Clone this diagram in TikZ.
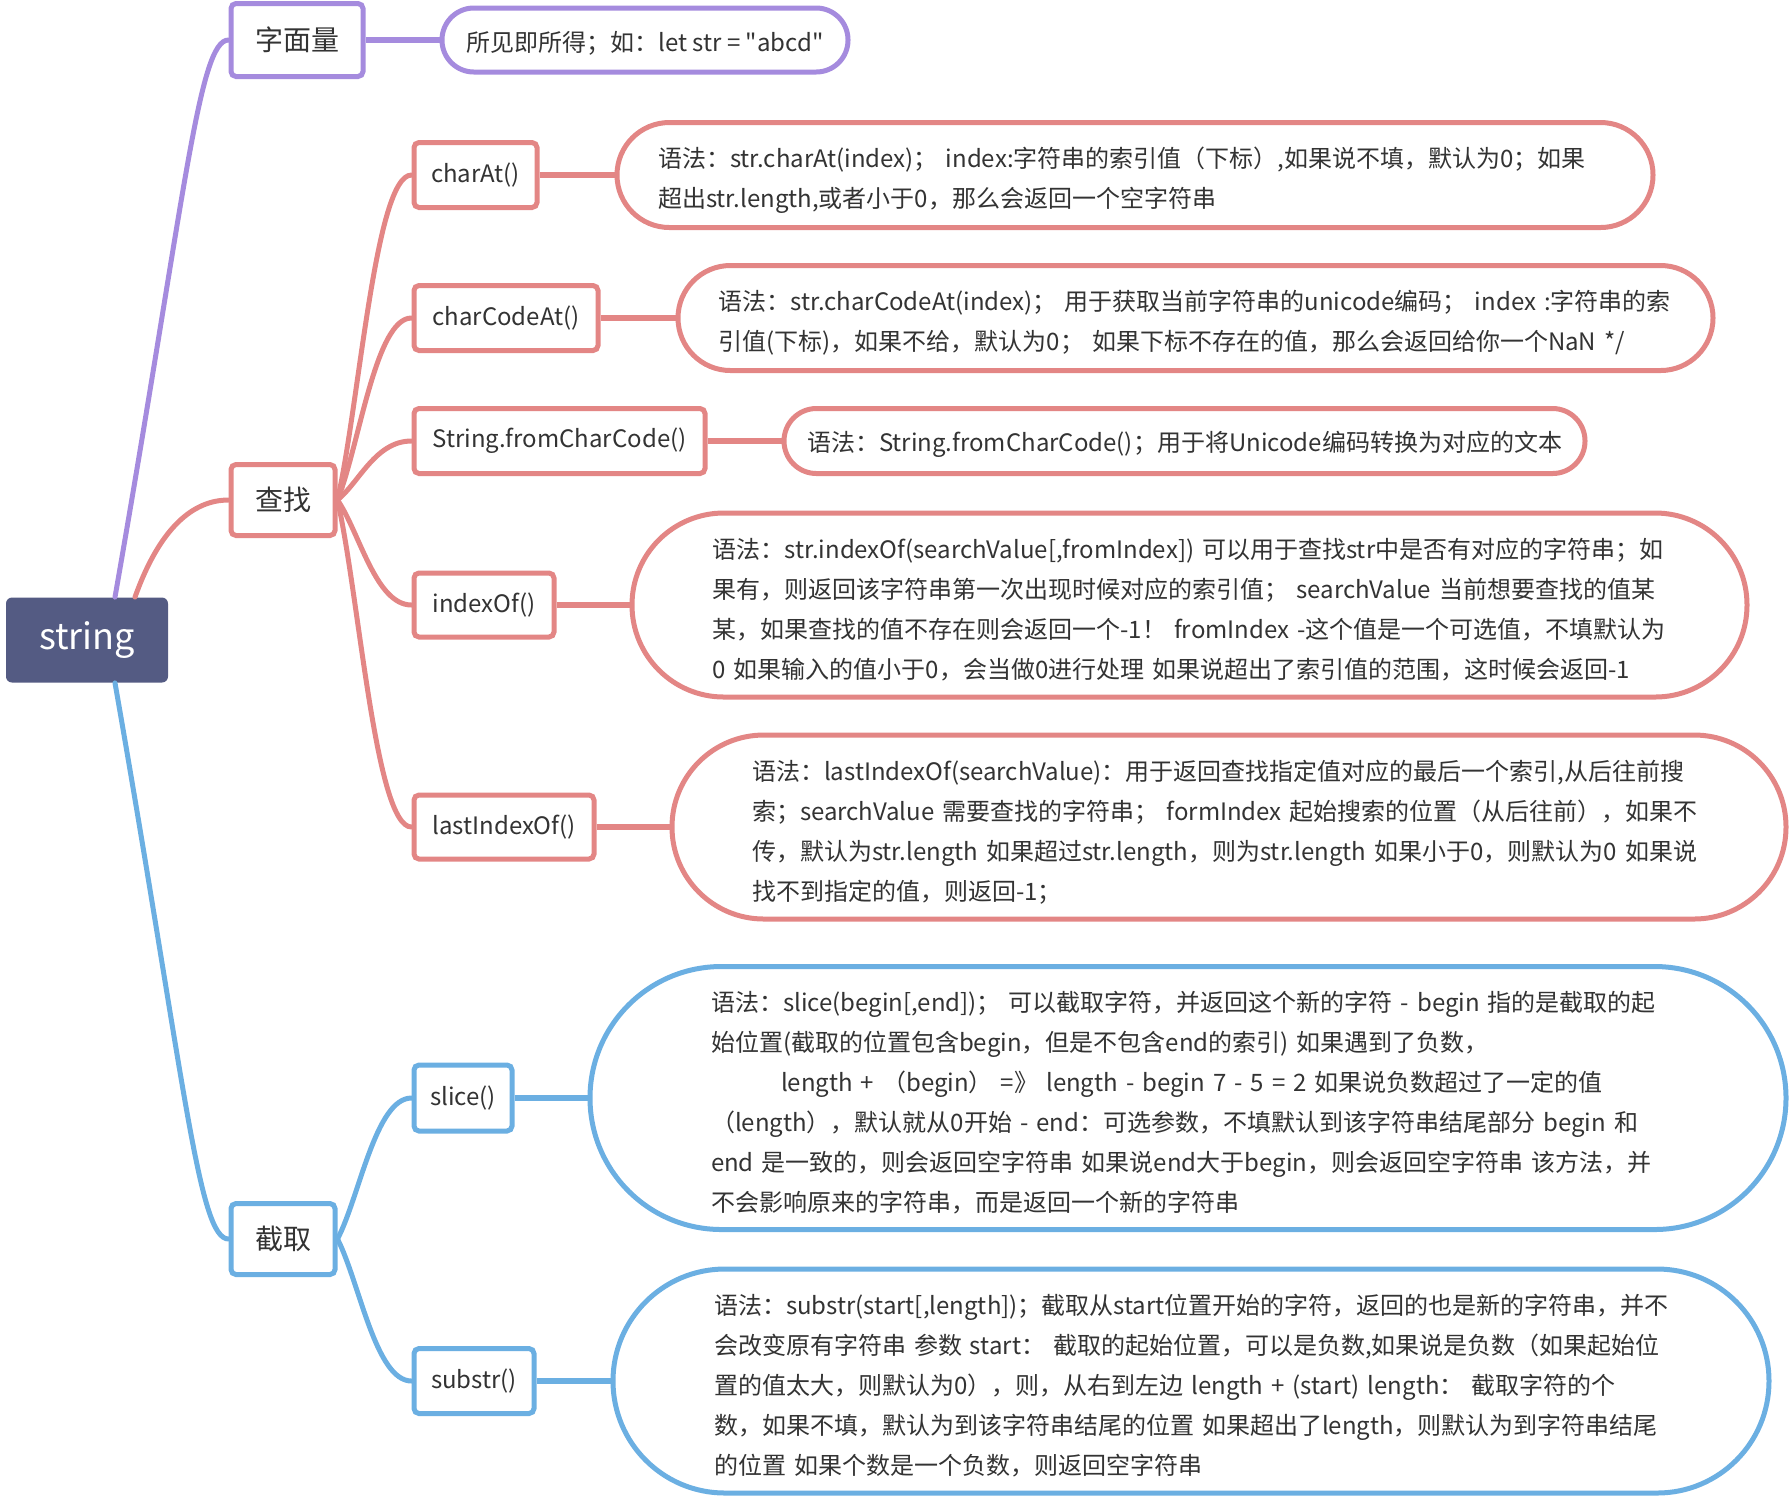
\documentclass[tikz,border=0pt]{standalone}
\usepackage{fontspec}
\newfontfamily\cjk{Noto Sans CJK SC}
\definecolor{cPur}{HTML}{A58BDE}
\definecolor{cRed}{HTML}{E38685}
\definecolor{cBlue}{HTML}{6BAFE2}
\definecolor{cRoot}{HTML}{545B83}
\definecolor{cText}{HTML}{333333}
\newcommand\topstrut{\rule{0pt}{15pt}}
\newcommand\onestrut{\rule{0pt}{13.5pt}}
\begin{document}
\begin{tikzpicture}[x=0.5pt,y=-0.5pt,
  every node/.style={inner sep=0pt, text=cText},
  lvbox/.style={draw, line width=2.5pt, rounded corners=2.5pt, fill=white, font=\cjk\fontsize{12}{14}\selectfont},
  topbox/.style={lvbox, font=\cjk\fontsize{14}{16}\selectfont},
  pill/.style={draw, line width=2.5pt, fill=white, font=\cjk\fontsize{12}{20}\selectfont},
  bubble/.style={pill, align=left, text width=477pt},
  link/.style={line width=3pt},
  branch/.style={line width=2.5pt, line cap=round}]
\useasboundingbox (0,0) rectangle (1792,1496);

% root
\node[fill=cRoot, rounded corners=3pt, minimum width=81pt, minimum height=42.5pt, text=white, font=\cjk\fontsize{18}{20}\selectfont] (root) at (87,640) {string};

% level 1
\node[topbox, draw=cPur, minimum width=66pt, minimum height=36.5pt] (lit) at (297,40) {字面量};
\node[topbox, draw=cRed, minimum width=52pt, minimum height=35.5pt] (cz) at (283,500) {查找};
\node[topbox, draw=cBlue, minimum width=52pt, minimum height=35.5pt] (jq) at (283,1239) {截取};

% literal bubble
\node[pill, draw=cPur, minimum width=203pt, minimum height=32pt, rounded corners=15.9pt] (litb) at (645,40) {\onestrut 所见即所得；如：let str = "abcd"};

% level 2 (find)
\node[lvbox, draw=cRed, minimum width=61.5pt, minimum height=32.5pt] (charat) at (475.5,175) {charAt()};
\node[lvbox, draw=cRed, minimum width=92pt, minimum height=32.5pt] (charcodeat) at (506,318) {charCodeAt()};
\node[lvbox, draw=cRed, minimum width=145.5pt, minimum height=32.5pt] (fromcc) at (559.5,441) {String.fromCharCode()};
\node[lvbox, draw=cRed, minimum width=70pt, minimum height=32pt] (indexof) at (484,605) {indexOf()};
\node[lvbox, draw=cRed, minimum width=90pt, minimum height=32pt] (lastidx) at (504,827) {lastIndexOf()};

% level 2 (cut)
\node[lvbox, draw=cBlue, minimum width=49pt, minimum height=33pt] (slice) at (463,1098) {slice()};
\node[lvbox, draw=cBlue, minimum width=60pt, minimum height=32.5pt] (substr) at (474,1381) {substr()};

% bubbles
\node[bubble, draw=cRed, minimum width=518pt, minimum height=52.5pt, rounded corners=26.2pt] (bA) at (1135,175)
 {\mbox{\topstrut 语法：str.charAt(index)； index:字符串的索引值（下标）,如果说不填，默认为0；如果}\\
  \mbox{超出str.length,或者小于0，那么会返回一个空字符串}};
\node[bubble, draw=cRed, minimum width=517.5pt, minimum height=52.5pt, rounded corners=26.2pt] (bB) at (1195.5,318)
 {\mbox{\topstrut 语法：str.charCodeAt(index)； 用于获取当前字符串的unicode编码； index :字符串的索}\\
  \mbox{引值(下标)，如果不给，默认为0； 如果下标不存在的值，那么会返回给你一个NaN */}};
\node[pill, draw=cRed, minimum width=400.5pt, minimum height=32.5pt, rounded corners=16.2pt] (bC) at (1184.5,441)
 {\onestrut 语法：String.fromCharCode()；用于将Unicode编码转换为对应的文本};
\node[bubble, draw=cRed, minimum width=557.5pt, minimum height=92pt, rounded corners=45.9pt] (bD) at (1189.5,605)
 {\mbox{\topstrut 语法：str.indexOf(searchValue[,fromIndex]) 可以用于查找str中是否有对应的字符串；如}\\
  \mbox{果有，则返回该字符串第一次出现时候对应的索引值； searchValue 当前想要查找的值某}\\
  \mbox{某，如果查找的值不存在则会返回一个-1！ fromIndex -这个值是一个可选值，不填默认为}\\
  \mbox{0 如果输入的值小于0，会当做0进行处理 如果说超出了索引值的范围，这时候会返回-1}};
\node[bubble, draw=cRed, minimum width=557pt, minimum height=92pt, rounded corners=45.9pt] (bE) at (1229,827)
 {\mbox{\topstrut 语法：lastIndexOf(searchValue)：用于返回查找指定值对应的最后一个索引,从后往前搜}\\
  \mbox{索；searchValue 需要查找的字符串； formIndex 起始搜索的位置（从后往前），如果不}\\
  \mbox{传，默认为str.length 如果超过str.length，则为str.length 如果小于0，则默认为0 如果说}\\
  \mbox{找不到指定的值，则返回-1；}};
\node[bubble, draw=cBlue, minimum width=598pt, minimum height=131.5pt, rounded corners=65.7pt] (bF) at (1188,1098)
 {\mbox{\topstrut 语法：slice(begin[,end])； 可以截取字符，并返回这个新的字符 - begin 指的是截取的起}\\
  \mbox{始位置(截取的位置包含begin，但是不包含end的索引) 如果遇到了负数，}\\
  \mbox{\hspace*{35pt}length + （begin） =》 length - begin 7 - 5 = 2 如果说负数超过了一定的值}\\
  \mbox{（length），默认就从0开始 - end：可选参数，不填默认到该字符串结尾部分 begin 和}\\
  \mbox{end 是一致的，则会返回空字符串 如果说end大于begin，则会返回空字符串 该方法，并}\\
  \mbox{不会影响原来的字符串，而是返回一个新的字符串}};
\node[bubble, draw=cBlue, minimum width=578pt, minimum height=112pt, rounded corners=55.9pt] (bG) at (1191,1381)
 {\mbox{\topstrut 语法：substr(start[,length])；截取从start位置开始的字符，返回的也是新的字符串，并不}\\
  \mbox{会改变原有字符串 参数 start： 截取的起始位置，可以是负数,如果说是负数（如果起始位}\\
  \mbox{置的值太大，则默认为0），则，从右到左边 length + (start) length： 截取字符的个}\\
  \mbox{数，如果不填，默认为到该字符串结尾的位置 如果超出了length，则默认为到字符串结尾}\\
  \mbox{的位置 如果个数是一个负数，则返回空字符串}};

% main branches
\draw[branch, cPur] ([xshift=14pt]root.north) .. controls +(70,-400) and +(-30,0) .. (lit.west);
\draw[branch, cRed] ([xshift=24pt]root.north) .. controls +(25,-70) and +(-35,0) .. (cz.west);
\draw[branch, cBlue] ([xshift=14pt]root.south) .. controls +(70,400) and +(-30,0) .. (jq.west);

% find branches
\draw[branch, cRed] (cz.east) .. controls +(22,-98) and +(-36,0) .. (charat.west);
\draw[branch, cRed] (cz.east) .. controls +(22,-55) and +(-36,0) .. (charcodeat.west);
\draw[branch, cRed] (cz.east) .. controls +(22,-18) and +(-36,0) .. (fromcc.west);
\draw[branch, cRed] (cz.east) .. controls +(22,32) and +(-36,0) .. (indexof.west);
\draw[branch, cRed] (cz.east) .. controls +(22,98) and +(-36,0) .. (lastidx.west);

% cut branches
\draw[branch, cBlue] (jq.east) .. controls +(22,-42) and +(-36,0) .. (slice.west);
\draw[branch, cBlue] (jq.east) .. controls +(22,43) and +(-36,0) .. (substr.west);

% links to bubbles
\draw[link, cPur] (lit.east) -- (litb.west);
\draw[link, cRed] (charat.east) -- (bA.west);
\draw[link, cRed] (charcodeat.east) -- (bB.west);
\draw[link, cRed] (fromcc.east) -- (bC.west);
\draw[link, cRed] (indexof.east) -- (bD.west);
\draw[link, cRed] (lastidx.east) -- (bE.west);
\draw[link, cBlue] (slice.east) -- (bF.west);
\draw[link, cBlue] (substr.east) -- (bG.west);
\end{tikzpicture}
\end{document}
